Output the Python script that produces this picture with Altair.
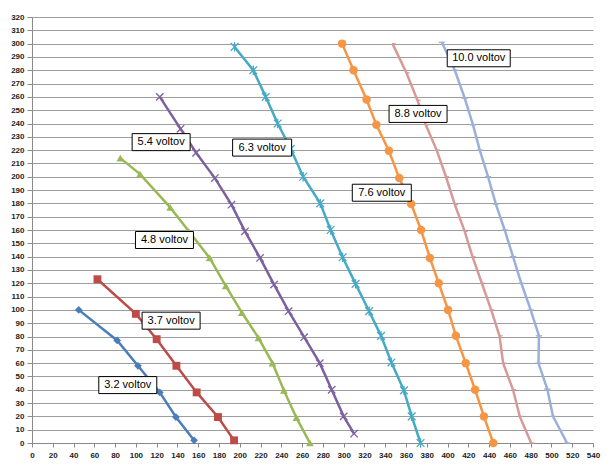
import altair as alt
import pandas as pd

# ---- data ----
series_names = ["3.2 voltov", "3.7 voltov", "4.8 voltov", "5.4 voltov",
                "6.3 voltov", "7.6 voltov", "8.8 voltov", "10.0 voltov"]

x_32 = [45, 82, 102, 123, 138.5, 156]
y_32 = [100, 77, 58, 38, 19.5, 2]

x_37 = [63, 100, 120, 139, 158.5, 179, 194.5]
y_37 = [123, 97, 78, 58, 38, 19.5, 2]

x_48 = [85, 104, 133, 151, 171, 186.5, 202, 218, 231.5, 242.5, 254.5, 267.5]
y_48 = [214, 202, 177, 159, 139, 118, 98, 79, 60, 39.5, 19, 0]

x_54 = [123, 143, 158, 176, 192, 205, 219.5, 233, 247, 262, 277, 288.5, 300, 310]
y_54 = [260, 236, 218, 199, 179, 159, 139, 119, 99, 79.5, 60, 40, 20, 7]

x_63 = [195, 213, 225, 236.5, 249, 261, 277.5, 287.5, 299, 311.5, 324.5, 336, 346, 358, 365.5, 374]
y_63 = [297.5, 280, 260, 240, 221, 200, 180, 160, 139.5, 119.5, 99, 80.5, 60.5, 39.5, 20, 0]

x_76 = [298.5, 309.5, 322, 331.5, 343.5, 353.5, 365, 374.5, 383, 391.5, 400.5, 408, 417.5, 426.5, 435, 444]
y_76 = [300, 280, 258, 239, 219.5, 199, 179.5, 160, 139, 120, 100, 80.5, 60, 40, 20, 0]

x_88 = [347, 360.5, 371, 379, 389.5, 398.5, 407, 416.5, 424, 433, 442, 450, 453.5, 463, 469.5, 480.5]
y_88 = [300, 278, 257.5, 239, 220, 200, 179, 159, 140, 120, 100, 80.5, 60, 40, 20, 0]

x_100 = [394.5, 407, 416.5, 424.5, 431, 439, 446.5, 455, 463, 471, 480, 488, 487.5, 496, 501.5, 515]
y_100 = [301, 280, 259, 239, 220, 200, 179.5, 160, 140, 120, 100, 80.5, 60, 40.5, 20, 0]

xs = [x_32, x_37, x_48, x_54, x_63, x_76, x_88, x_100]
ys = [y_32, y_37, y_48, y_54, y_63, y_76, y_88, y_100]

# label anchor positions (data units) for the boxed annotations
label_x = [92.2, 133.9, 127.5, 124.3, 221.5, 336.7, 371.6, 430.0]
label_y = [43.5, 91.9, 152.5, 226.0, 221.9, 188.0, 247.2, 289.0]
label_wpx = [58, 58, 58, 58, 59, 59, 58, 63]

x_ticks = list(range(0, 541, 20))
y_ticks = list(range(0, 321, 10))

# ---- styles ----
colors = ["#4A7EBB", "#BE4B48", "#98B954", "#7D60A0", "#46AAC5", "#F69544", "#D69A98", "#9BB0D8"]
shapes = ["diamond", "square", "triangle-up",
          "M-1,-1L1,1M-1,1L1,-1",
          "M-1,-1L1,1M-1,1L1,-1M0,-1.2L0,1.2",
          "circle",
          "M-0.2,0L1,0",
          "M-1,0L1,0"]
filled = [True, True, True, False, False, True, False, False]
sizes = [60, 62, 60, 55, 60, 72, 40, 40]

W, H = 561, 426
XMAX, YMAX = 540, 320
px_x = W / XMAX
px_y = H / YMAX

rows = []
for name, xx, yy in zip(series_names, xs, ys):
    for i, (a, b) in enumerate(zip(xx, yy)):
        rows.append({"series": name, "x": a, "y": b, "i": i})
df = pd.DataFrame(rows)

xscale = alt.Scale(domain=[0, XMAX], nice=False, zero=False)
yscale = alt.Scale(domain=[0, YMAX], nice=False, zero=False)
cscale = alt.Scale(domain=series_names, range=colors)

xaxis = alt.Axis(values=x_ticks, grid=False, title=None, labelFontSize=8,
                 labelFont="Liberation Sans", labelColor="#222", domainColor="#8a8a8a",
                 tickColor="#8a8a8a", tickSize=4, labelPadding=4, labelFontWeight="bold",
                 labelFlush=False, labelOverlap=False)
yaxis = alt.Axis(values=y_ticks, grid=True, gridColor="#9e9e9e", gridWidth=1,
                 title=None, labelFontSize=8, labelFont="Liberation Sans",
                 labelColor="#222", domainColor="#8a8a8a", tickColor="#8a8a8a",
                 tickSize=5, labelPadding=3, labelFontWeight="bold",
                 labelOverlap=False, labelFlush=False)


def X(field):
    return alt.X(field, scale=xscale, axis=xaxis)


def Y(field):
    return alt.Y(field, scale=yscale, axis=yaxis)


lines = alt.Chart(df).mark_line(strokeWidth=2.5).encode(
    x=X("x:Q"),
    y=Y("y:Q"),
    color=alt.Color("series:N", scale=cscale, legend=None),
    detail="series:N",
    order="i:Q",
)

layers = [lines]
for name, col, shp, fl, sz in zip(series_names, colors, shapes, filled, sizes):
    sub = df[df["series"] == name]
    if fl:
        mk = alt.Chart(sub).mark_point(shape=shp, filled=True, size=sz, color=col, opacity=1)
    else:
        mk = alt.Chart(sub).mark_point(shape=shp, filled=False, size=sz, color=col,
                                       strokeWidth=1.3, opacity=1)
    layers.append(mk.encode(x=X("x:Q"), y=Y("y:Q")))

lab_rows = []
for name, lx, ly, wp in zip(series_names, label_x, label_y, label_wpx):
    hw = wp / 2 / px_x
    hh = 8.5 / px_y
    lab_rows.append({"label": name, "x": lx, "y": ly,
                     "x1": lx - hw, "x2": lx + hw, "y1": ly - hh, "y2": ly + hh})
ldf = pd.DataFrame(lab_rows)

boxes = alt.Chart(ldf).mark_rect(fill="white", stroke="black", strokeWidth=1).encode(
    x=X("x1:Q"), x2="x2:Q",
    y=Y("y1:Q"), y2="y2:Q",
)
texts = alt.Chart(ldf).mark_text(font="Liberation Sans", fontSize=11, color="black",
                                 align="center", baseline="middle").encode(
    x=X("x:Q"), y=Y("y:Q"), text="label:N"
)
layers += [boxes, texts]

chart = alt.layer(*layers).properties(
    width=W, height=H,
    autosize=alt.AutoSizeParams(type="none"),
    padding={"left": 32, "top": 17, "right": 17, "bottom": 25},
    background="white",
).configure_view(stroke=None)

chart.save("out.html", embed_options={"renderer": "svg", "actions": False})
